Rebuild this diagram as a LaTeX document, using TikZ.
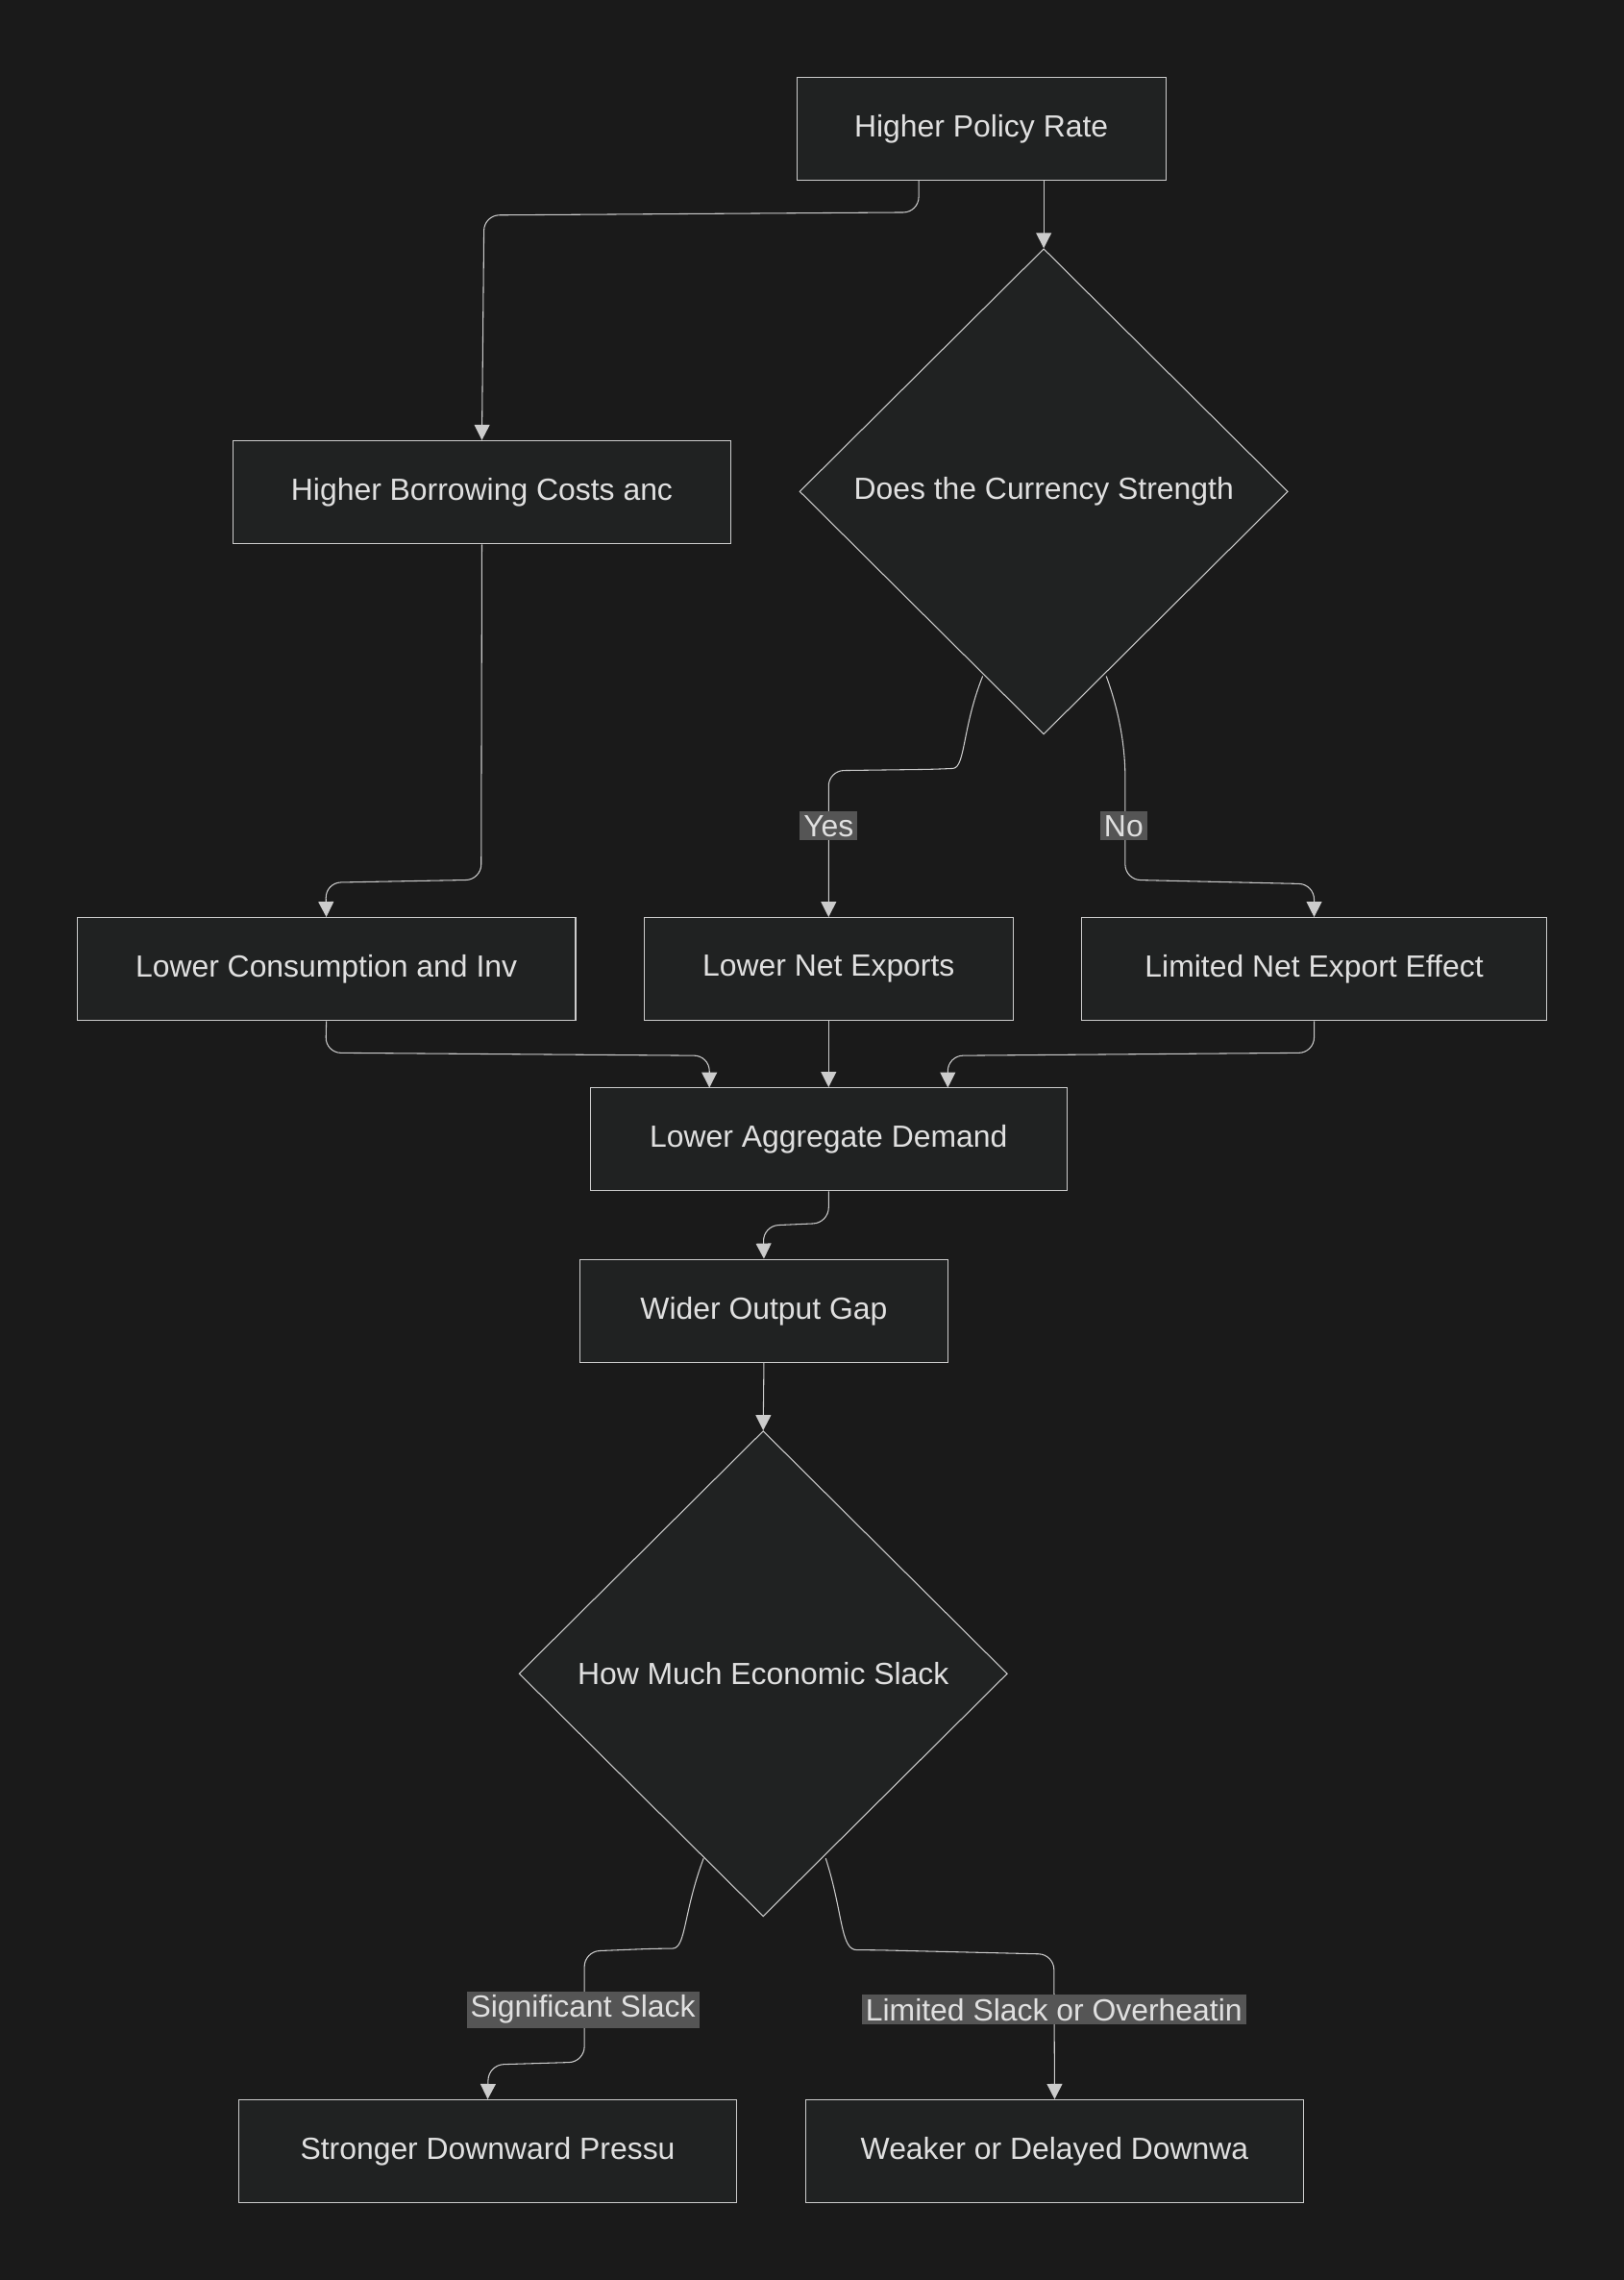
\documentclass[tikz,border=0pt]{standalone}
\usepackage{fontspec}
\setmainfont{Liberation Sans}
\usetikzlibrary{shapes.geometric,arrows.meta,calc}
\definecolor{bgc}{RGB}{26,26,26}
\definecolor{nodefill}{RGB}{32,34,34}
\definecolor{linec}{RGB}{204,204,204}
\definecolor{txt}{RGB}{224,224,224}
\definecolor{lblbg}{RGB}{85,85,85}
\begin{document}
\begin{tikzpicture}[x=0.02cm, y=-0.02cm,
 every node/.style={font=\fontsize{12}{14}\selectfont, text=txt},
 box/.style={rectangle, draw=linec, fill=nodefill, inner sep=0pt, minimum height=1.42cm},
 choice/.style={diamond, draw=linec, fill=nodefill, inner sep=0pt, minimum width=6.72cm, minimum height=6.68cm},
 arrow/.style={-{Triangle[length=6pt,width=6pt]}, draw=linec, rounded corners=6pt},
 lbl/.style={fill=lblbg, inner sep=1.5pt, text=txt}]

    \fill[bgc] (0,0) rectangle (1117,1568);
    \useasboundingbox (0,0) rectangle (1117,1568);

	\node[box, minimum width=5.08cm] (rate) at (675,88.5) {Higher Policy Rate};
	\node[box, minimum width=6.86cm] (borrow) at (331.5,338.5) {Higher Borrowing Costs anc};
	\node[choice] (currency) at (718,338) {Does the Currency Strength};
	\node[box, minimum width=6.86cm] (consume) at (224.5,666.5) {Lower Consumption and Inv};
	\node[box, minimum width=5.08cm] (netexp) at (570,666.5) {Lower Net Exports};
	\node[box, minimum width=6.40cm] (limexp) at (904,666.5) {Limited Net Export Effect};
	\node[box, minimum width=6.56cm] (demand) at (570,783.5) {Lower Aggregate Demand};
	\node[box, minimum width=5.06cm] (gap) at (525.5,901.5) {Wider Output Gap};
	\node[choice] (slack) at (525,1151) {How Much Economic Slack};
	\node[box, minimum width=6.86cm] (strong) at (335.5,1479.5) {Stronger Downward Pressu};
	\node[box, minimum width=6.86cm] (weak) at (725.5,1479.5) {Weaker or Delayed Downwa};

	\draw[arrow] (632,124) -- (632,146) -- (333,148) -- (borrow.north);
	\draw[arrow] (718,124) -- (currency.north);
	\draw[arrow] (borrow.south) -- (331,605) -- (224,607) -- (consume.north);
	\draw[arrow] (676,465) .. controls (662,500) and (664,528) .. (645,529) -- (570,530) -- (netexp.north);
	\draw[arrow] (761,465) .. controls (772,495) and (774,520) .. (774,545) -- (774,605) -- (904,608) -- (limexp.north);
	\path (570,568) node[lbl] {Yes} (773,568) node[lbl] {No};
	\draw[arrow] (consume.south) -- (224,724) -- (488,726) -- (488,748);
	\draw[arrow] (netexp.south) -- (demand.north);
	\draw[arrow] (limexp.south) -- (904,724) -- (652,726) -- (652,748);
	\draw[arrow] (demand.south) -- (570,841) -- (525,843) -- (gap.north);
	\draw[arrow] (gap.south) -- (slack.north);
	\draw[arrow] (484,1278) .. controls (470,1315) and (472,1340) .. (452,1340) -- (402,1342) -- (402,1418) -- (336,1420) -- (strong.north);
	\draw[arrow] (568,1278) .. controls (580,1315) and (578,1341) .. (600,1341) -- (725,1344) -- (weak.north);
	\path (401,1382) node[lbl] {Significant Slack} (725,1382) node[lbl] {Limited Slack or Overheatin};
\end{tikzpicture}
\end{document}
